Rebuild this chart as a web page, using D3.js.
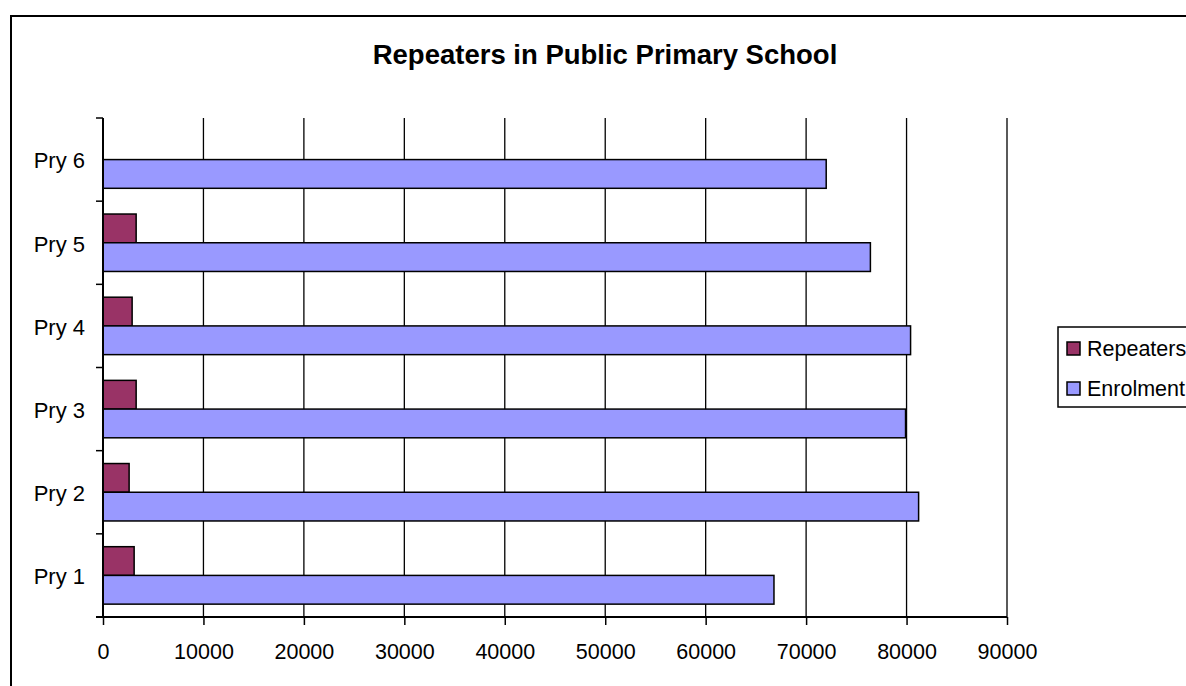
<!DOCTYPE html>
<html>
<head>
<meta charset="utf-8">
<script src="https://cdn.jsdelivr.net/npm/d3@7"></script>
<style>
  html, body { margin: 0; padding: 0; background: #fff; }
  svg { display: block; font-family: "Liberation Sans", Arial, sans-serif; }
</style>
</head>
<body>
<svg id="chart" width="1186" height="686"></svg>
<script>
const categories = ["Pry 1", "Pry 2", "Pry 3", "Pry 4", "Pry 5", "Pry 6"];
const seriesNames = ["Repeaters", "Enrolment"];
const repeaters = [3100, 2600, 3300, 2900, 3300, 0];
const enrolment = [66800, 81200, 79900, 80400, 76400, 72000];
const xTicks = [0, 10000, 20000, 30000, 40000, 50000, 60000, 70000, 80000, 90000];
const colors = ["#993366", "#9999FF"];
const title = "Repeaters in Public Primary School";

const svg = d3.select("#chart");
const plot = { left: 103, right: 1007, top: 118, bottom: 617 };

// outer border
svg.append("rect").attr("x", 11).attr("y", 16).attr("width", 1200).attr("height", 700)
  .attr("fill", "#fff").attr("stroke", "#000").attr("stroke-width", 2);

const x = d3.scaleLinear().domain([0, 90000]).range([plot.left, plot.right]);
const y0 = d3.scaleBand().domain(categories.slice().reverse()).range([plot.top, plot.bottom]).padding(0);
const y1 = d3.scaleBand().domain(seriesNames).range([0, y0.bandwidth()]).paddingInner(0).paddingOuter(0.448);

// gridlines
svg.append("g").selectAll("line").data(xTicks.filter(d => d > 0)).join("line")
  .attr("x1", d => x(d)).attr("x2", d => x(d))
  .attr("y1", plot.top).attr("y2", plot.bottom)
  .attr("stroke", "#000").attr("stroke-width", 1.3);

// bars
const data = categories.map((c, i) => ({ cat: c, vals: [repeaters[i], enrolment[i]] }));
const groups = svg.append("g").selectAll("g").data(data).join("g")
  .attr("transform", d => `translate(0,${y0(d.cat)})`);
groups.selectAll("rect").data(d => d.vals.map((v, j) => ({ v, s: seriesNames[j], j })).filter(e => e.v > 0))
  .join("rect")
  .attr("x", x(0))
  .attr("y", d => y1(d.s))
  .attr("width", d => x(d.v) - x(0))
  .attr("height", y1.bandwidth())
  .attr("fill", d => colors[d.j])
  .attr("stroke", "#000").attr("stroke-width", 1.5);

// x axis
const xAxis = d3.axisBottom(x).tickValues(xTicks).tickFormat(d3.format("d")).tickSize(8).tickPadding(19);
const gx = svg.append("g").attr("transform", `translate(0,${plot.bottom})`).call(xAxis);
gx.select(".domain").remove();
gx.append("line").attr("x1", plot.left - 7).attr("x2", plot.right).attr("y1", 0).attr("y2", 0)
  .attr("stroke", "#000").attr("stroke-width", 2);
gx.selectAll(".tick line").attr("stroke", "#000").attr("stroke-width", 1.5);
gx.selectAll(".tick text").attr("fill", "#000").attr("font-size", 21.5)
  .attr("font-family", "Liberation Sans, Arial, sans-serif");

// y axis (category labels + boundary ticks)
const gy = svg.append("g");
gy.append("line").attr("x1", plot.left).attr("x2", plot.left).attr("y1", plot.top).attr("y2", plot.bottom)
  .attr("stroke", "#000").attr("stroke-width", 2);
const boundaries = categories.slice().reverse().map(c => y0(c));
gy.selectAll("line.bt").data(boundaries).join("line").attr("class", "bt")
  .attr("x1", plot.left - 7).attr("x2", plot.left).attr("y1", d => d).attr("y2", d => d)
  .attr("stroke", "#000").attr("stroke-width", 1.5);
gy.selectAll("text").data(categories).join("text")
  .attr("x", plot.left - 18)
  .attr("y", d => y0(d) + y0.bandwidth() / 2)
  .attr("dy", "0.4em")
  .attr("text-anchor", "end")
  .attr("font-size", 22)
  .attr("fill", "#000")
  .text(d => d);

// title
svg.append("text").attr("x", 605).attr("y", 64).attr("text-anchor", "middle")
  .attr("font-size", 27.5).attr("font-weight", "bold").attr("fill", "#000").text(title);

// legend
const lg = svg.append("g");
lg.append("rect").attr("x", 1058).attr("y", 327).attr("width", 160).attr("height", 80)
  .attr("fill", "#fff").attr("stroke", "#000").attr("stroke-width", 1.5);
const items = lg.selectAll("g").data(seriesNames).join("g")
  .attr("transform", (d, i) => `translate(1067,${342 + i * 40})`);
items.append("rect").attr("width", 13).attr("height", 13)
  .attr("fill", (d, i) => colors[i]).attr("stroke", "#000").attr("stroke-width", 1.5);
items.append("text").attr("x", 20).attr("y", 13.5).attr("font-size", 21.5).attr("fill", "#000").text(d => d);
</script>
</body>
</html>
